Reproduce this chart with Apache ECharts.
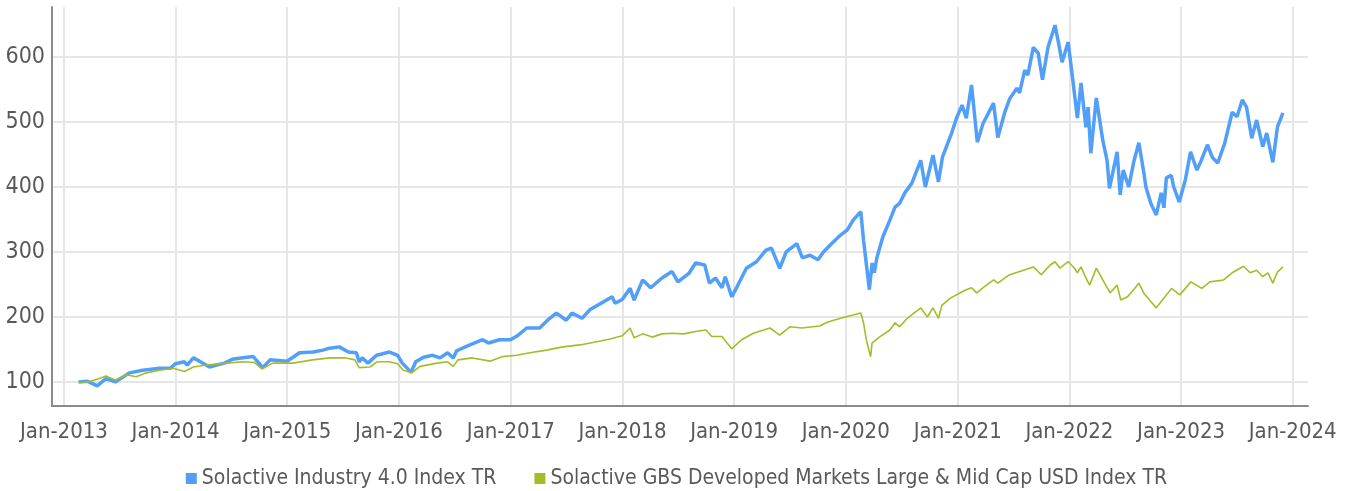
<!DOCTYPE html>
<html>
<head>
<meta charset="utf-8">
<title>Solactive Industry 4.0</title>
<script src="https://cdn.jsdelivr.net/npm/echarts@6.0.0/dist/echarts.min.js"></script>
<style>
  html, body { margin: 0; padding: 0; background: #fff; }
  #chart { width: 1353px; height: 491px; }
</style>
</head>
<body>
<div id="chart"></div>
<script>
// series names (legend)
const seriesNames = [
  "Solactive Industry 4.0 Index TR",
  "Solactive GBS Developed Markets Large & Mid Cap USD Index TR"
];

// years shown on the x axis (Jan of each year)
const tickYears = [2013, 2014, 2015, 2016, 2017, 2018, 2019, 2020, 2021, 2022, 2023, 2024];
const yTicks = [100, 200, 300, 400, 500, 600];

// values
const industry = [
  ["2013-02-18", 100], ["2013-03-20", 101], ["2013-04-20", 94], ["2013-05-18", 105],
  ["2013-06-18", 100], ["2013-08-03", 114], ["2013-09-16", 118], ["2013-11-10", 121],
  ["2013-12-15", 121], ["2013-12-31", 128], ["2014-01-30", 131], ["2014-02-08", 126],
  ["2014-02-28", 137], ["2014-03-20", 132], ["2014-04-22", 123], ["2014-05-15", 126],
  ["2014-06-10", 129], ["2014-07-05", 135], ["2014-08-22", 138], ["2014-09-12", 139],
  ["2014-10-13", 122], ["2014-11-06", 134], ["2014-12-31", 132], ["2015-01-20", 138],
  ["2015-02-10", 145], ["2015-03-27", 146], ["2015-04-28", 149], ["2015-05-20", 152],
  ["2015-06-20", 154], ["2015-07-20", 146], ["2015-08-15", 145], ["2015-08-24", 131],
  ["2015-09-03", 137], ["2015-09-22", 129], ["2015-10-20", 141], ["2015-11-06", 143],
  ["2015-12-01", 146], ["2015-12-28", 141], ["2016-01-12", 129], ["2016-02-10", 115],
  ["2016-02-25", 131], ["2016-03-22", 138], ["2016-04-20", 141], ["2016-05-15", 137],
  ["2016-06-08", 145], ["2016-06-27", 137], ["2016-07-08", 148], ["2016-08-20", 157],
  ["2016-10-01", 165], ["2016-10-20", 160], ["2016-11-25", 165], ["2016-12-31", 165],
  ["2017-01-25", 172], ["2017-02-22", 183], ["2017-04-05", 183], ["2017-05-08", 198],
  ["2017-05-30", 206], ["2017-07-01", 195], ["2017-07-20", 206], ["2017-08-22", 198],
  ["2017-09-16", 211], ["2017-10-30", 223], ["2017-11-28", 231], ["2017-12-08", 221],
  ["2017-12-31", 227], ["2018-01-26", 244], ["2018-02-08", 226], ["2018-03-08", 257],
  ["2018-04-03", 245], ["2018-05-10", 260], ["2018-06-12", 270], ["2018-07-01", 254],
  ["2018-08-06", 267], ["2018-08-28", 283], ["2018-09-27", 280], ["2018-10-12", 252],
  ["2018-11-01", 260], ["2018-11-22", 245], ["2018-12-03", 262], ["2018-12-24", 231],
  ["2019-01-10", 246], ["2019-02-10", 275], ["2019-03-15", 285], ["2019-04-15", 303],
  ["2019-05-03", 306], ["2019-05-30", 275], ["2019-06-20", 300], ["2019-07-25", 313],
  ["2019-08-12", 291], ["2019-09-06", 295], ["2019-10-02", 288], ["2019-10-20", 300],
  ["2019-11-12", 311], ["2019-12-15", 326], ["2020-01-06", 334], ["2020-01-25", 349],
  ["2020-02-19", 362], ["2020-02-28", 318], ["2020-03-18", 242], ["2020-03-27", 283],
  ["2020-04-03", 268], ["2020-04-12", 292], ["2020-05-01", 323], ["2020-05-24", 349],
  ["2020-06-10", 369], ["2020-06-25", 375], ["2020-07-12", 391], ["2020-08-04", 406],
  ["2020-09-02", 441], ["2020-09-17", 400], ["2020-10-12", 449], ["2020-10-30", 408],
  ["2020-11-12", 446], ["2020-12-12", 483], ["2020-12-28", 506], ["2021-01-15", 526],
  ["2021-01-29", 506], ["2021-02-15", 557], ["2021-03-06", 469], ["2021-03-25", 498],
  ["2021-04-28", 529], ["2021-05-12", 476], ["2021-06-03", 514], ["2021-06-20", 536],
  ["2021-07-13", 552], ["2021-07-22", 545], ["2021-08-08", 580], ["2021-08-18", 572],
  ["2021-09-05", 615], ["2021-09-21", 606], ["2021-10-05", 565], ["2021-10-23", 615],
  ["2021-11-15", 649], ["2021-11-28", 618], ["2021-12-08", 592], ["2021-12-28", 623],
  ["2022-01-12", 565], ["2022-01-27", 506], ["2022-02-08", 560], ["2022-02-24", 492],
  ["2022-03-03", 523], ["2022-03-12", 452], ["2022-03-30", 537], ["2022-04-20", 472],
  ["2022-05-04", 441], ["2022-05-12", 398], ["2022-06-06", 454], ["2022-06-16", 388],
  ["2022-06-26", 426], ["2022-07-14", 400], ["2022-07-30", 438], ["2022-08-16", 468],
  ["2022-09-02", 420], ["2022-09-08", 400], ["2022-09-24", 375], ["2022-10-12", 357],
  ["2022-10-28", 391], ["2022-11-06", 368], ["2022-11-14", 414], ["2022-11-30", 418],
  ["2022-12-08", 400], ["2022-12-26", 377], ["2023-01-15", 411], ["2023-02-01", 454],
  ["2023-02-22", 426], ["2023-03-08", 441], ["2023-03-28", 465], ["2023-04-14", 445],
  ["2023-05-01", 437], ["2023-05-24", 468], ["2023-06-17", 515], ["2023-07-03", 508],
  ["2023-07-20", 534], ["2023-08-03", 523], ["2023-08-20", 475], ["2023-09-05", 503],
  ["2023-09-25", 462], ["2023-10-08", 483], ["2023-10-28", 438], ["2023-11-12", 492],
  ["2023-11-30", 514]
];

const gbs = [
  ["2013-02-18", 100], ["2013-03-20", 100], ["2013-04-25", 105], ["2013-05-18", 109],
  ["2013-06-18", 103], ["2013-07-25", 111], ["2013-08-25", 108], ["2013-09-28", 114],
  ["2013-11-10", 118], ["2013-12-25", 121], ["2014-01-30", 116], ["2014-02-28", 123],
  ["2014-04-12", 126], ["2014-06-18", 129], ["2014-08-08", 131], ["2014-09-15", 130],
  ["2014-10-10", 120], ["2014-11-15", 129], ["2015-01-20", 129], ["2015-03-25", 134],
  ["2015-05-20", 137], ["2015-07-12", 137], ["2015-08-10", 134], ["2015-08-24", 122],
  ["2015-09-28", 123], ["2015-10-22", 131], ["2015-12-01", 131], ["2015-12-28", 128],
  ["2016-01-15", 118], ["2016-02-12", 114], ["2016-03-10", 124], ["2016-05-05", 129],
  ["2016-06-08", 131], ["2016-06-27", 124], ["2016-07-12", 134], ["2016-08-28", 137],
  ["2016-10-25", 132], ["2016-12-05", 139], ["2017-01-20", 141], ["2017-03-05", 145],
  ["2017-04-28", 149], ["2017-06-20", 154], ["2017-08-15", 157], ["2017-10-08", 162],
  ["2017-11-22", 166], ["2017-12-31", 171], ["2018-01-26", 183], ["2018-02-08", 168],
  ["2018-03-08", 174], ["2018-04-08", 169], ["2018-05-10", 174], ["2018-06-12", 175],
  ["2018-07-20", 174], ["2018-09-01", 178], ["2018-10-01", 180], ["2018-10-20", 170],
  ["2018-11-22", 170], ["2018-12-24", 151], ["2019-01-25", 165], ["2019-03-05", 175],
  ["2019-04-28", 183], ["2019-05-30", 172], ["2019-07-03", 185], ["2019-08-10", 183],
  ["2019-09-15", 185], ["2019-10-08", 186], ["2019-11-01", 192], ["2019-12-15", 198],
  ["2020-01-15", 202], ["2020-02-19", 206], ["2020-02-28", 191], ["2020-03-08", 165],
  ["2020-03-22", 139], ["2020-03-27", 160], ["2020-04-20", 169], ["2020-05-24", 180],
  ["2020-06-10", 191], ["2020-06-25", 185], ["2020-07-20", 198], ["2020-09-02", 214],
  ["2020-09-24", 200], ["2020-10-12", 214], ["2020-10-30", 198], ["2020-11-10", 218],
  ["2020-12-08", 229], ["2021-01-08", 237], ["2021-01-29", 242], ["2021-02-15", 245],
  ["2021-03-04", 237], ["2021-03-25", 245], ["2021-04-28", 257], ["2021-05-12", 252],
  ["2021-06-10", 262], ["2021-06-20", 265], ["2021-08-04", 272], ["2021-09-05", 277],
  ["2021-10-01", 265], ["2021-10-30", 280], ["2021-11-15", 285], ["2021-12-01", 275],
  ["2021-12-28", 285], ["2022-01-18", 275], ["2022-01-27", 268], ["2022-02-08", 277],
  ["2022-02-24", 260], ["2022-03-08", 249], ["2022-03-30", 275], ["2022-04-26", 252],
  ["2022-05-14", 237], ["2022-06-06", 249], ["2022-06-18", 226], ["2022-07-10", 231],
  ["2022-07-30", 242], ["2022-08-16", 252], ["2022-09-02", 236], ["2022-09-20", 226],
  ["2022-10-12", 214], ["2022-11-01", 226], ["2022-12-01", 244], ["2022-12-28", 234],
  ["2023-02-02", 254], ["2023-03-10", 244], ["2023-04-05", 254], ["2023-05-20", 257],
  ["2023-06-17", 268], ["2023-07-24", 278], ["2023-08-15", 268], ["2023-09-05", 272],
  ["2023-09-25", 262], ["2023-10-12", 268], ["2023-10-28", 252], ["2023-11-12", 269],
  ["2023-11-30", 277]
];

const fontFamily = '"Liberation Sans Narrow", "DejaVu Sans Condensed", "DejaVu Sans", sans-serif';
const textColor = "#595959";
const gridColor = "#e6e6e6";
const axisColor = "#8a8a8a";

// dates -> timestamps, x axis is a plain value axis in ms
function toTime(s) {
  const p = s.split("-");
  return new Date(+p[0], +p[1] - 1, +p[2]).getTime();
}
const toPoints = (list) => list.map((d) => [toTime(d[0]), d[1]]);
const yearTicks = tickYears.map((y) => new Date(y, 0, 1).getTime());

const option = {
  animation: false,
  backgroundColor: "#fff",
  color: ["#519ff8", "#a6bb2a"],
  grid: {
    left: 52,
    right: 45,
    top: 7,
    bottom: 85,
    containLabel: false,
    outerBoundsMode: "none",
  },
  legend: {
    top: 463,
    left: "center",
    icon: "rect",
    itemWidth: 11,
    itemHeight: 11,
    itemGap: 38,
    textStyle: {
      color: textColor,
      fontFamily: fontFamily,
      fontSize: 21,
    },
    data: seriesNames,
  },
  xAxis: {
    type: "value",
    min: new Date(2012, 10, 23).getTime(),
    max: new Date(2024, 1, 20).getTime(),
    axisLine: {
      show: true,
      onZero: false,
      lineStyle: { color: axisColor, width: 2 },
    },
    axisTick: { show: false, customValues: yearTicks },
    axisLabel: {
      customValues: yearTicks,
      color: textColor,
      fontFamily: fontFamily,
      fontSize: 22,
      margin: 15,
      formatter: function (val) {
        return "Jan-" + new Date(val).getFullYear();
      },
    },
    splitLine: {
      show: true,
      lineStyle: { color: gridColor, width: 2 },
    },
  },
  yAxis: {
    type: "value",
    min: 63,
    max: 677,
    axisLine: {
      show: true,
      lineStyle: { color: axisColor, width: 2 },
    },
    axisTick: { show: false, customValues: yTicks },
    axisLabel: {
      customValues: yTicks,
      color: textColor,
      fontFamily: fontFamily,
      fontSize: 23,
      margin: 7,
    },
    splitLine: {
      show: true,
      lineStyle: { color: gridColor, width: 2 },
    },
  },
  series: [
    {
      name: seriesNames[0],
      type: "line",
      data: toPoints(industry),
      symbol: "none",
      lineStyle: { width: 3.5 },
      z: 2,
    },
    {
      name: seriesNames[1],
      type: "line",
      data: toPoints(gbs),
      symbol: "none",
      lineStyle: { width: 1.6 },
      z: 3,
    },
  ],
};

const chart = echarts.init(document.getElementById("chart"));
chart.setOption(option);
window.addEventListener("resize", () => {
  chart.resize();
});
</script>
</body>
</html>
